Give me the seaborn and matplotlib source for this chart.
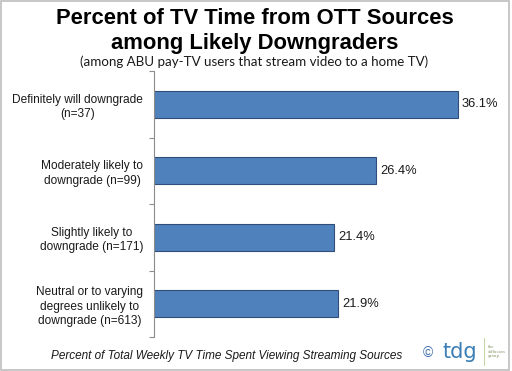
import numpy as np
import pandas as pd
import matplotlib
matplotlib.use("Agg")
import matplotlib.pyplot as plt
import seaborn as sns
from matplotlib.patches import Rectangle

# Data
categories = [
    "Definitely will downgrade\n(n=37)",
    "Moderately likely to\ndowngrade (n=99)",
    "Slightly likely to\ndowngrade (n=171)",
    "Neutral or to varying\ndegrees unlikely to\ndowngrade (n=613)",
]
values = [36.1, 26.4, 21.4, 21.9]

df = pd.DataFrame({"group": categories, "pct": values})

sns.set_style("white")
plt.rcParams["font.family"] = ["Liberation Sans", "DejaVu Sans"]

fig = plt.figure(figsize=(5.12, 3.71), dpi=100)
ax = fig.add_axes([0.301, 0.0916, 0.674, 0.717])

sns.barplot(data=df, x="pct", y="group", orient="h", color="#4F81BD",
            width=0.41, saturation=1, edgecolor="#2F4F7A", linewidth=0.8, ax=ax)

ax.set_xlim(0, 41)
ax.set_ylim(3.5, -0.5)
ax.set_xlabel("")
ax.set_ylabel("")
ax.set_xticks([])

for s in ["top", "right", "bottom"]:
    ax.spines[s].set_visible(False)
ax.spines["left"].set_color("#8c8c8c")
ax.spines["left"].set_linewidth(0.8)

ax.tick_params(axis="y", which="major", left=False, length=0, pad=8, labelsize=8.6,
               labelcolor="#1a1a1a")
for lab in ax.get_yticklabels():
    lab.set_multialignment("center")
    lab.set_linespacing(1.3)
ax.set_yticks(np.arange(-0.5, 4.0, 1.0), minor=True)
ax.tick_params(axis="y", which="minor", left=True, length=3.5, width=0.8,
               color="#8c8c8c", direction="out")

for i, v in enumerate(values):
    ax.text(v + 0.45, i, f"{v:.1f}%", va="center", ha="left", fontsize=9.3, color="#1a1a1a")

# Titles
fig.text(0.497, 0.950, "Percent of TV Time from OTT Sources", ha="center", va="center",
         fontsize=15.8, fontweight="bold", color="black")
fig.text(0.497, 0.884, "among Likely Downgraders", ha="center", va="center",
         fontsize=15.8, fontweight="bold", color="black")
fig.text(0.497, 0.834, "(among ABU pay-TV users that stream video to a home TV)", ha="center",
         va="center", fontsize=9.6, color="#1a1a1a", family=["Lato", "DejaVu Sans"])

# Footer
fig.text(0.443, 0.040, "Percent of Total Weekly TV Time Spent Viewing Streaming Sources",
         ha="center", va="center", fontsize=8.5, style="italic", color="#1a1a1a")
fig.text(0.836, 0.048, "\u00a9", ha="center", va="center", fontsize=10, color="#3a6aa8")
fig.text(0.899, 0.050, "tdg", ha="center", va="center", fontsize=15, color="#3b7fb6",
         family=["DejaVu Sans"])
fig.add_artist(plt.Line2D([0.945, 0.945], [0.015, 0.09], color="#c8d8a8", lw=0.8,
                          transform=fig.transFigure))
fig.text(0.953, 0.052, "the\ndiffusion\ngroup", ha="left", va="center", fontsize=2.8,
         color="#8a9a6a", family=["DejaVu Serif"], linespacing=1.1)

# border
fig.add_artist(Rectangle((0.002, 0.003), 0.993, 0.994, transform=fig.transFigure,
                         fill=False, edgecolor="#bdbdbd", lw=1.2))

fig.savefig("out.png", dpi=100)
